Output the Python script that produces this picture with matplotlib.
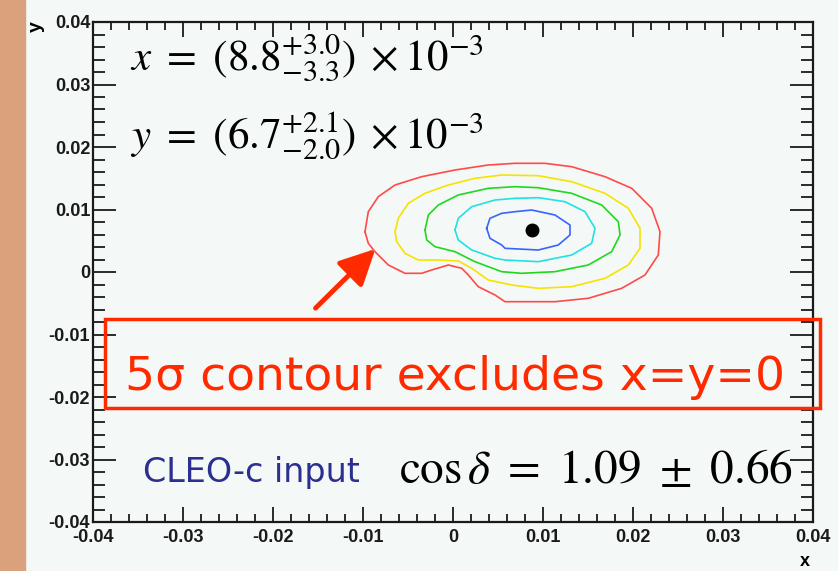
import numpy as np
import matplotlib.pyplot as plt
from matplotlib.ticker import MultipleLocator, FuncFormatter
from matplotlib.patches import Rectangle

plt.rcParams['mathtext.fontset'] = 'stix'

# contour lines (units of 1e-3)
red_x = [-9.78, -9.41, -8.30, -6.44, -3.48, 0.22, 3.92, 6.89, 10.22, 13.19, 16.89, 19.86, 22.08,
         23.0, 22.81, 21.33, 18.74, 15.03, 11.33, 5.78, 4.67, 2.81, 1.70, 0.97, -0.52, -2.37,
         -3.48, -5.33, -7.19, -8.67, -9.41]
red_y = [6.45, 9.65, 12.05, 13.92, 15.25, 16.32, 17.12, 17.39, 17.39, 16.85, 15.25, 13.39, 10.19,
         6.45, 2.72, -0.48, -2.61, -4.21, -4.75, -4.75, -3.68, -2.35, -0.48, 0.59, 1.12, 0.32,
         -0.21, -0.21, 1.12, 3.25, 4.59]
yellow_x = [-6.44, -6.08, -4.97, -3.11, -0.52, 2.44, 5.41, 9.48, 13.19, 16.89, 19.48, 20.78, 20.78,
            19.48, 16.89, 13.19, 9.48, 6.52, 3.92, 2.08, 0.59, -1.63, -3.86, -5.33, -6.26]
yellow_y = [6.45, 8.59, 10.99, 12.59, 13.92, 14.99, 15.52, 15.41, 14.45, 12.59, 10.19, 6.99, 3.79,
            1.12, -1.01, -2.35, -2.61, -2.08, -1.28, 0.59, 1.76, 1.92, 1.92, 2.99, 4.85]
green_x = [-3.11, -2.74, -1.63, 0.59, 3.92, 6.89, 9.48, 13.19, 16.52, 18.37, 18.56, 17.63, 15.03,
           11.33, 7.63, 5.41, 2.44, 0.22, -2.0, -2.92]
green_y = [6.72, 9.12, 10.72, 12.32, 13.39, 13.65, 13.49, 12.59, 10.72, 8.05, 5.92, 3.25, 1.12,
           0.05, -0.21, 0.05, 1.65, 3.25, 4.05, 5.12]
cyan_x = [0.22, 0.59, 2.08, 4.67, 6.89, 9.48, 12.44, 14.67, 15.78, 15.41, 13.19, 9.48, 5.78, 4.67,
          2.08, 0.59]
cyan_y = [6.72, 8.59, 10.45, 11.52, 11.79, 11.89, 11.25, 9.65, 6.99, 4.59, 2.72, 1.65, 1.92, 2.19,
          3.52, 5.12]
blue_x = [3.74, 4.11, 5.41, 6.89, 8.74, 11.33, 13.0, 13.0, 11.70, 9.48, 5.78, 5.41, 4.11]
blue_y = [6.99, 8.59, 9.39, 9.65, 9.92, 9.12, 7.52, 5.92, 4.32, 3.52, 3.79, 4.32, 5.39]

best_x = 8.8
best_y = 6.7

contours = [
    (red_x, red_y, '#ff4a4a'),
    (yellow_x, yellow_y, '#f5e400'),
    (green_x, green_y, '#1fd81f'),
    (cyan_x, cyan_y, '#1fe3e3'),
    (blue_x, blue_y, '#3a63ff'),
]

fig = plt.figure(figsize=(8.38, 5.71), dpi=100, facecolor='#f4f8f6')
fig.patches.append(Rectangle((0, 0), 25 / 838, 1, transform=fig.transFigure,
                             color='#d9a17c', zorder=0))
ax = fig.add_axes([93 / 838, 1 - 522 / 571, 720 / 838, 500 / 571])
ax.set_facecolor('#f4f8f6')

for cx, cy, col in contours:
    xs = np.array(cx + cx[:1]) * 1e-3
    ys = np.array(cy + cy[:1]) * 1e-3
    ax.plot(xs, ys, color=col, lw=1.2)

ax.plot(best_x * 1e-3, best_y * 1e-3, 'o', color='black', ms=9)

ax.set_xlim(-0.04, 0.04)
ax.set_ylim(-0.04, 0.04)

fmt = FuncFormatter(lambda v, p: '%g' % round(v, 4))
for axis in (ax.xaxis, ax.yaxis):
    axis.set_major_locator(MultipleLocator(0.01))
    axis.set_minor_locator(MultipleLocator(0.002))
    axis.set_major_formatter(fmt)
ax.tick_params(which='both', direction='in', top=True, right=True, width=1.3, color='#1a1a1a')
ax.tick_params(axis='x', which='major', length=11, pad=5)
ax.tick_params(axis='x', which='minor', length=6)
ax.tick_params(axis='y', which='major', length=16.5, pad=2)
ax.tick_params(axis='y', which='minor', length=8.5)
for lab in ax.get_xticklabels() + ax.get_yticklabels():
    lab.set_fontfamily('Liberation Sans')
    lab.set_fontweight('bold')
    lab.set_fontsize(13)
    lab.set_color('#1a1a1a')
for sp in ax.spines.values():
    sp.set_linewidth(1.6)
    sp.set_color('#1a1a1a')

fig.text(36 / 838, 1 - 27 / 571, 'y', rotation=90, ha='center', va='center',
         fontsize=14, fontweight='bold', family='Liberation Sans')
fig.text(805 / 838, 1 - 562 / 571, 'x', ha='center', va='center',
         fontsize=13, fontweight='bold', family='Liberation Sans')

ax.text(-0.0359, 0.0323, r'$x\ =\ (8.8^{+3.0}_{-3.3})\;\times 10^{-3}$', fontsize=31,
        ha='left', va='baseline')
ax.text(-0.0359, 0.0198, r'$y\ =\ (6.7^{+2.1}_{-2.0})\;\times 10^{-3}$', fontsize=31,
        ha='left', va='baseline')
ax.text(-0.0344, -0.0336, 'CLEO-c input', fontsize=24, color='#2b2f8f',
        ha='left', va='baseline', family='DejaVu Sans')
ax.text(-0.0060, -0.0338, r'$\cos\delta\ =\ 1.09\ \pm\ 0.66$', fontsize=34,
        ha='left', va='baseline')

ax.add_patch(Rectangle((0.0167, 0.228), 0.993, 0.178, transform=ax.transAxes,
                       fill=False, edgecolor='#ff2a00', lw=2.5, clip_on=False, zorder=5))
ax.text(0.0002, -0.0189, '5σ contour excludes x=y=0', fontsize=34, color='#ff2a00',
        ha='center', va='baseline', family='DejaVu Sans')
ax.annotate('', xy=(-0.0084, 0.0040), xytext=(-0.0155, -0.0061),
            arrowprops=dict(arrowstyle='-|>,head_length=1.2,head_width=0.6',
                            color='#ff2a00', lw=3.5, mutation_scale=18))

fig.savefig('out.png', dpi=100, facecolor=fig.get_facecolor())
